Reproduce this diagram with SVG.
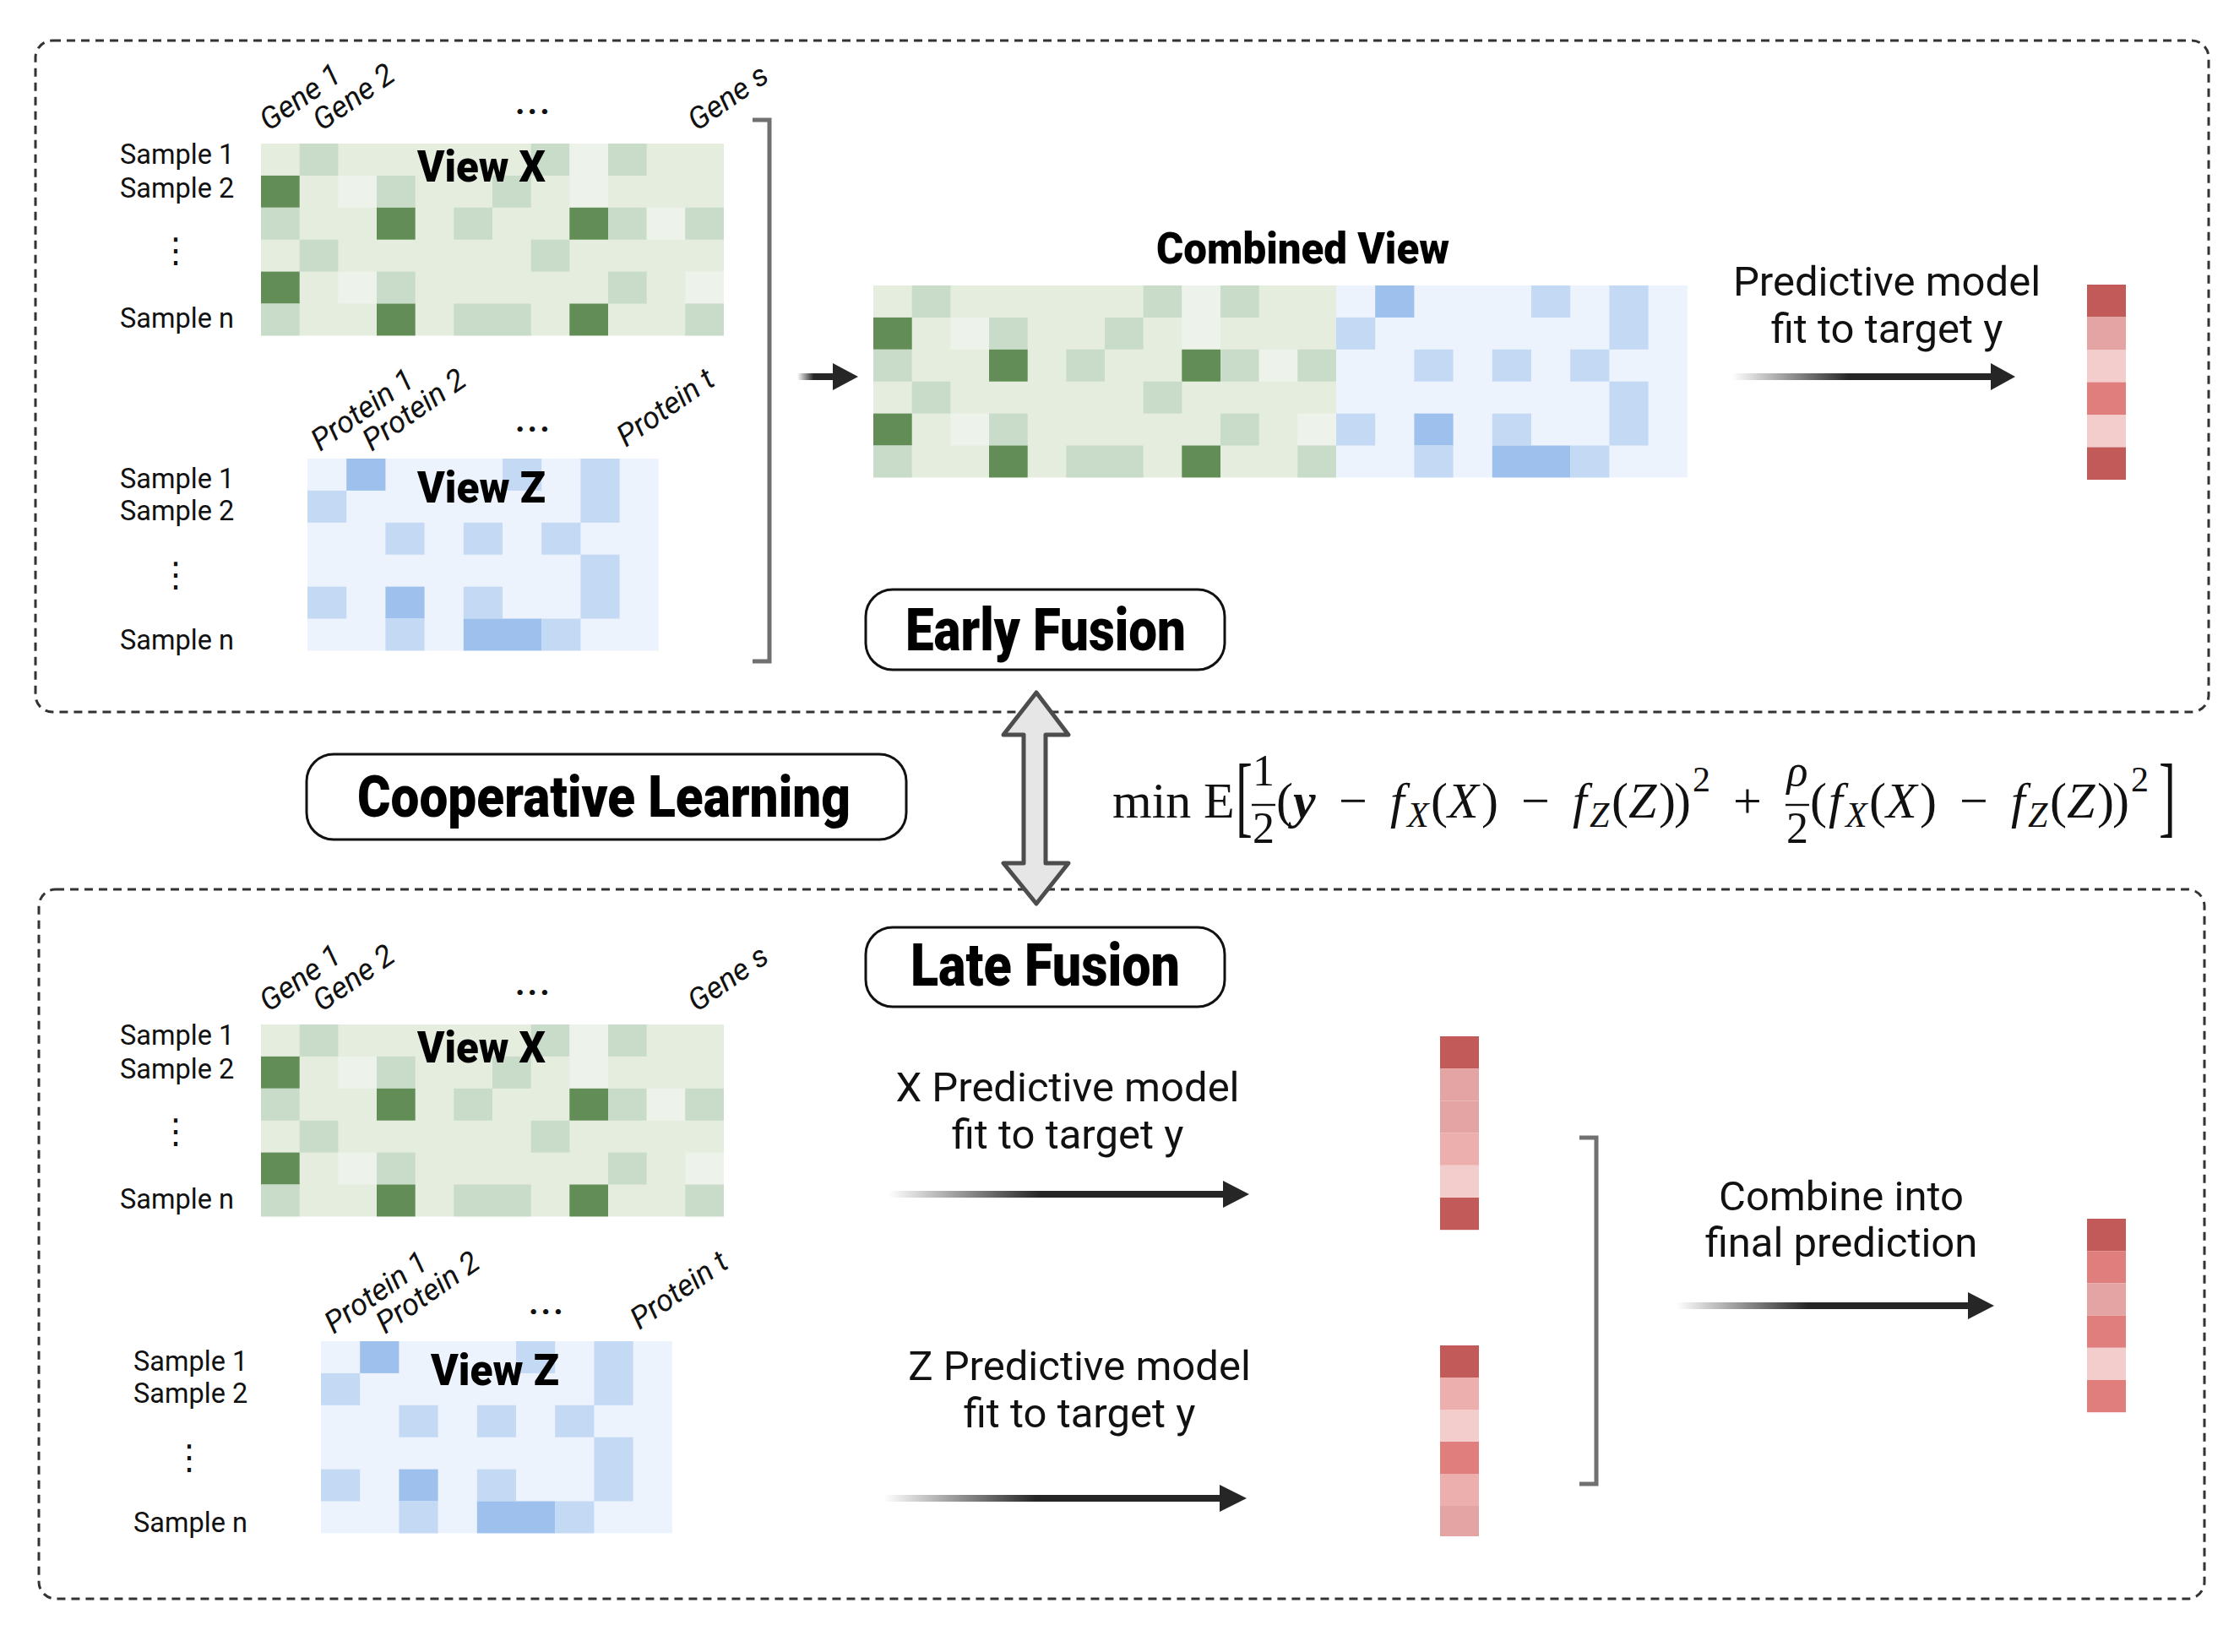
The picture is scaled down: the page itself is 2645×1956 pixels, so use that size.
<svg xmlns="http://www.w3.org/2000/svg" xmlns:xlink="http://www.w3.org/1999/xlink" width="2645" height="1956" viewBox="0 0 2645 1956">
<defs>
<style>
.dash{fill:none;stroke:#333;stroke-width:3;stroke-dasharray:10 7}
.lbl{font-family:Roboto,"Liberation Sans",sans-serif;font-size:32.5px;fill:#111}
.col{font-family:Roboto,"Liberation Sans",sans-serif;font-style:italic;font-size:36px;fill:#111}
.dots{font-family:Roboto,"Liberation Sans",sans-serif;font-size:40px;font-weight:700;letter-spacing:3px;fill:#111}
.vdots{font-family:"DejaVu Sans",sans-serif;font-size:40px;fill:#111;text-anchor:middle}
.ttl{font-family:Roboto,"Liberation Sans",sans-serif;font-weight:900;fill:#000}
.txt{font-family:Roboto,"Liberation Sans",sans-serif;font-size:49px;fill:#111;text-anchor:middle}
.m{font-family:"Liberation Serif","Times New Roman",serif;font-size:60px;fill:#111}
.mi{font-style:italic}
.s{font-size:42px}
.fr{font-size:52px;text-anchor:middle}
.gL{fill:#e5eddf}.gM{fill:#c9dcc9}.gV{fill:#edf2ea}.gD{fill:#638d56}
.bL{fill:#ecf3fc}.bM{fill:#c3d9f4}.bD{fill:#9dc1ec}
.r1{fill:#c25a5a}.r2{fill:#e07e7e}.r3{fill:#e4a4a3}.r4{fill:#edaeae}.r5{fill:#f3cccc}
.brk{fill:none;stroke:#707070;stroke-width:5}
.pill{fill:#fff;stroke:#111;stroke-width:3}
.head{fill:#262626}
.bar{stroke:#111;stroke-width:2.4}
</style>
<linearGradient id="fade" x1="0" y1="0" x2="1" y2="0">
<stop offset="0" stop-color="#ffffff"/>
<stop offset="0.45" stop-color="#262626"/>
<stop offset="1" stop-color="#262626"/>
</linearGradient>
<g id="gridX">
<rect class="gL" x="0" y="0" width="548" height="227.4"/>
<rect class="gM" x="45.7" y="0" width="45.7" height="37.9"/>
<rect class="gM" x="319.7" y="0" width="45.7" height="37.9"/>
<rect class="gV" x="365.3" y="0" width="45.7" height="37.9"/>
<rect class="gM" x="411" y="0" width="45.7" height="37.9"/>
<rect class="gD" x="0" y="37.9" width="45.7" height="37.9"/>
<rect class="gV" x="91.3" y="37.9" width="45.7" height="37.9"/>
<rect class="gM" x="137" y="37.9" width="45.7" height="37.9"/>
<rect class="gM" x="274" y="37.9" width="45.7" height="37.9"/>
<rect class="gV" x="365.3" y="37.9" width="45.7" height="37.9"/>
<rect class="gM" x="0" y="75.8" width="45.7" height="37.9"/>
<rect class="gD" x="137" y="75.8" width="45.7" height="37.9"/>
<rect class="gM" x="228.3" y="75.8" width="45.7" height="37.9"/>
<rect class="gD" x="365.3" y="75.8" width="45.7" height="37.9"/>
<rect class="gM" x="411" y="75.8" width="45.7" height="37.9"/>
<rect class="gV" x="456.7" y="75.8" width="45.7" height="37.9"/>
<rect class="gM" x="502.3" y="75.8" width="45.7" height="37.9"/>
<rect class="gM" x="45.7" y="113.7" width="45.7" height="37.9"/>
<rect class="gM" x="319.7" y="113.7" width="45.7" height="37.9"/>
<rect class="gD" x="0" y="151.6" width="45.7" height="37.9"/>
<rect class="gV" x="91.3" y="151.6" width="45.7" height="37.9"/>
<rect class="gM" x="137" y="151.6" width="45.7" height="37.9"/>
<rect class="gM" x="411" y="151.6" width="45.7" height="37.9"/>
<rect class="gV" x="502.3" y="151.6" width="45.7" height="37.9"/>
<rect class="gM" x="0" y="189.5" width="45.7" height="37.9"/>
<rect class="gD" x="137" y="189.5" width="45.7" height="37.9"/>
<rect class="gM" x="228.3" y="189.5" width="91.4" height="37.9"/>
<rect class="gD" x="365.3" y="189.5" width="45.7" height="37.9"/>
<rect class="gM" x="502.3" y="189.5" width="45.7" height="37.9"/>
</g>
<g id="gridZ">
<rect class="bL" x="0" y="0" width="415.8" height="227.4"/>
<rect class="bD" x="46.2" y="0" width="46.2" height="37.9"/>
<rect class="bM" x="231" y="0" width="46.2" height="37.9"/>
<rect class="bM" x="323.4" y="0" width="46.2" height="75.8"/>
<rect class="bM" x="0" y="37.9" width="46.2" height="37.9"/>
<rect class="bM" x="92.4" y="75.8" width="46.2" height="37.9"/>
<rect class="bM" x="184.8" y="75.8" width="46.2" height="37.9"/>
<rect class="bM" x="277.2" y="75.8" width="46.2" height="37.9"/>
<rect class="bM" x="323.4" y="113.7" width="46.2" height="75.8"/>
<rect class="bM" x="0" y="151.6" width="46.2" height="37.9"/>
<rect class="bD" x="92.4" y="151.6" width="46.2" height="37.9"/>
<rect class="bM" x="184.8" y="151.6" width="46.2" height="37.9"/>
<rect class="bM" x="92.4" y="189.5" width="46.2" height="37.9"/>
<rect class="bD" x="184.8" y="189.5" width="92.4" height="37.9"/>
<rect class="bM" x="277.2" y="189.5" width="46.2" height="37.9"/>
</g>
</defs>
<rect x="0" y="0" width="2645" height="1956" fill="#fff"/>

<g id="panel-early"><rect class="dash" x="42" y="48" width="2573" height="795" rx="20"/></g>
<g id="panel-late"><rect class="dash" x="46" y="1053" width="2564" height="840" rx="20"/></g>

<g id="early-viewX">
<use xlink:href="#gridX" x="309" y="170"/>
<text class="ttl" x="494" y="215" font-size="52" textLength="152" lengthAdjust="spacingAndGlyphs">View X</text>
<text class="col" transform="translate(318,156) rotate(-35)">Gene 1</text>
<text class="col" transform="translate(381,156) rotate(-35)">Gene 2</text>
<text class="col" transform="translate(825,156) rotate(-35)">Gene s</text>
<text class="dots" x="610" y="135">...</text>
<text class="lbl" x="142" y="194">Sample 1</text>
<text class="lbl" x="142" y="234">Sample 2</text>
<text class="vdots" x="208" y="310">⋮</text>
<text class="lbl" x="142" y="388">Sample n</text>
</g>

<g id="early-viewZ">
<use xlink:href="#gridZ" x="364" y="543"/>
<text class="ttl" x="494" y="595" font-size="52" textLength="152" lengthAdjust="spacingAndGlyphs">View Z</text>
<text class="col" transform="translate(379,535) rotate(-35)">Protein 1</text>
<text class="col" transform="translate(440,535) rotate(-35)">Protein 2</text>
<text class="col" transform="translate(741,530) rotate(-35)">Protein t</text>
<text class="dots" x="610" y="511">...</text>
<text class="lbl" x="142" y="578">Sample 1</text>
<text class="lbl" x="142" y="616">Sample 2</text>
<text class="vdots" x="208" y="694">⋮</text>
<text class="lbl" x="142" y="769">Sample n</text>
</g>

<g id="combined-view">
<text class="ttl" x="1369" y="312" font-size="52" textLength="347" lengthAdjust="spacingAndGlyphs">Combined View</text>
<use xlink:href="#gridX" x="1034" y="338"/>
<use xlink:href="#gridZ" x="1582" y="338"/>
</g>

<g id="early-model">
<text class="txt" x="2234" y="350">Predictive model</text>
<text class="txt" x="2234" y="406">fit to target y</text>
</g>

<g id="early-prediction">
<rect class="r1" x="2471" y="337" width="46" height="38.5"/>
<rect class="r3" x="2471" y="375.5" width="46" height="38.5"/>
<rect class="r5" x="2471" y="414" width="46" height="38.5"/>
<rect class="r2" x="2471" y="452.5" width="46" height="38.5"/>
<rect class="r5" x="2471" y="491" width="46" height="38.5"/>
<rect class="r1" x="2471" y="529.5" width="46" height="38.5"/>
</g>

<g id="early-fusion">
<rect class="pill" x="1025" y="698" width="425" height="95" rx="32"/>
<text class="ttl" x="1072" y="770" font-size="70" textLength="332" lengthAdjust="spacingAndGlyphs">Early Fusion</text>
</g>

<g id="cooperative-learning">
<rect class="pill" x="363" y="893" width="710" height="101" rx="32"/>
<text class="ttl" x="423" y="967" font-size="68" textLength="584" lengthAdjust="spacingAndGlyphs">Cooperative Learning</text>
</g>

<g id="late-fusion">
<rect class="pill" x="1025" y="1098" width="425" height="94" rx="32"/>
<text class="ttl" x="1078" y="1167" font-size="70" textLength="319" lengthAdjust="spacingAndGlyphs">Late Fusion</text>
</g>

<g id="objective">
<text class="m" x="1317" y="968">min</text>
<text class="m" x="1425" y="968">E</text>
<text class="m" transform="translate(1463,978) scale(1,1.75)">[</text>
<text class="m fr" x="1496" y="930">1</text>
<line class="bar" x1="1482" y1="953" x2="1510" y2="953"/>
<text class="m fr" x="1496" y="998">2</text>
<text class="m" x="1511" y="968">(</text>
<text class="m mi" x="1531" y="968" font-weight="700">y</text>
<text class="m" x="1585" y="968">−</text>
<text class="m mi" x="1646" y="968">f</text>
<text class="m mi s" x="1666" y="979">X</text>
<text class="m" x="1694" y="968">(</text>
<text class="m mi" x="1714" y="968">X</text>
<text class="m" x="1754" y="968">)</text>
<text class="m" x="1801" y="968">−</text>
<text class="m mi" x="1862" y="968">f</text>
<text class="m mi s" x="1882" y="979">Z</text>
<text class="m" x="1908" y="968">(</text>
<text class="m mi" x="1928" y="968">Z</text>
<text class="m" x="1964" y="968">)</text>
<text class="m" x="1982" y="968">)</text>
<text class="m s" x="2004" y="937">2</text>
<text class="m" x="2052" y="968">+</text>
<text class="m fr mi" x="2128" y="930">ρ</text>
<line class="bar" x1="2114" y1="953" x2="2142" y2="953"/>
<text class="m fr" x="2128" y="998">2</text>
<text class="m" x="2143" y="968">(</text>
<text class="m mi" x="2165" y="968">f</text>
<text class="m mi s" x="2185" y="979">X</text>
<text class="m" x="2213" y="968">(</text>
<text class="m mi" x="2233" y="968">X</text>
<text class="m" x="2273" y="968">)</text>
<text class="m" x="2320" y="968">−</text>
<text class="m mi" x="2381" y="968">f</text>
<text class="m mi s" x="2401" y="979">Z</text>
<text class="m" x="2427" y="968">(</text>
<text class="m mi" x="2447" y="968">Z</text>
<text class="m" x="2483" y="968">)</text>
<text class="m" x="2501" y="968">)</text>
<text class="m s" x="2523" y="937">2</text>
<text class="m" transform="translate(2556,978) scale(1,1.75)">]</text>
</g>

<g id="late-viewX" transform="translate(0,1043)">
<use xlink:href="#gridX" x="309" y="170"/>
<text class="ttl" x="494" y="215" font-size="52" textLength="152" lengthAdjust="spacingAndGlyphs">View X</text>
<text class="col" transform="translate(318,156) rotate(-35)">Gene 1</text>
<text class="col" transform="translate(381,156) rotate(-35)">Gene 2</text>
<text class="col" transform="translate(825,156) rotate(-35)">Gene s</text>
<text class="dots" x="610" y="135">...</text>
<text class="lbl" x="142" y="194">Sample 1</text>
<text class="lbl" x="142" y="234">Sample 2</text>
<text class="vdots" x="208" y="310">⋮</text>
<text class="lbl" x="142" y="388">Sample n</text>
</g>

<g id="late-viewZ" transform="translate(16,1045)">
<use xlink:href="#gridZ" x="364" y="543"/>
<text class="ttl" x="494" y="595" font-size="52" textLength="152" lengthAdjust="spacingAndGlyphs">View Z</text>
<text class="col" transform="translate(379,535) rotate(-35)">Protein 1</text>
<text class="col" transform="translate(440,535) rotate(-35)">Protein 2</text>
<text class="col" transform="translate(741,530) rotate(-35)">Protein t</text>
<text class="dots" x="610" y="511">...</text>
<text class="lbl" x="142" y="578">Sample 1</text>
<text class="lbl" x="142" y="616">Sample 2</text>
<text class="vdots" x="208" y="694">⋮</text>
<text class="lbl" x="142" y="769">Sample n</text>
</g>

<g id="late-modelX">
<text class="txt" x="1264" y="1304">X Predictive model</text>
<text class="txt" x="1264" y="1360">fit to target y</text>
</g>
<g id="late-modelZ">
<text class="txt" x="1278" y="1634">Z Predictive model</text>
<text class="txt" x="1278" y="1690">fit to target y</text>
</g>

<g id="late-predX">
<rect class="r1" x="1705" y="1227" width="46" height="38.2"/>
<rect class="r3" x="1705" y="1265.2" width="46" height="38.2"/>
<rect class="r3" x="1705" y="1303.4" width="46" height="38.2"/>
<rect class="r4" x="1705" y="1341.6" width="46" height="38.2"/>
<rect class="r5" x="1705" y="1379.8" width="46" height="38.2"/>
<rect class="r1" x="1705" y="1418" width="46" height="38.2"/>
</g>
<g id="late-predZ">
<rect class="r1" x="1705" y="1593" width="46" height="38"/>
<rect class="r4" x="1705" y="1631" width="46" height="38"/>
<rect class="r5" x="1705" y="1669" width="46" height="38"/>
<rect class="r2" x="1705" y="1707" width="46" height="38"/>
<rect class="r4" x="1705" y="1745" width="46" height="38"/>
<rect class="r3" x="1705" y="1783" width="46" height="36"/>
</g>

<g id="late-combine">
<text class="txt" x="2180" y="1433">Combine into</text>
<text class="txt" x="2180" y="1488">final prediction</text>
</g>

<g id="final-prediction">
<rect class="r1" x="2471" y="1443" width="46" height="38.2"/>
<rect class="r2" x="2471" y="1481.2" width="46" height="38.2"/>
<rect class="r3" x="2471" y="1519.4" width="46" height="38.2"/>
<rect class="r2" x="2471" y="1557.6" width="46" height="38.2"/>
<rect class="r5" x="2471" y="1595.8" width="46" height="38.2"/>
<rect class="r2" x="2471" y="1634" width="46" height="38.2"/>
</g>

<g id="connectors">
<path class="brk" d="M891 142 H911 V783 H891"/>
<path class="brk" d="M1870 1347 H1890 V1757 H1870"/>
<rect x="944" y="442" width="43" height="8" fill="url(#fade)"/>
<polygon class="head" points="986,430 1016,446 986,462"/>
<rect x="2051" y="442" width="307" height="8" fill="url(#fade)"/>
<polygon class="head" points="2357,430 2386,446 2357,462"/>
<rect x="1052" y="1410" width="397" height="8" fill="url(#fade)"/>
<polygon class="head" points="1448,1398 1479,1414 1448,1430"/>
<rect x="1047" y="1770" width="398" height="8" fill="url(#fade)"/>
<polygon class="head" points="1444,1758 1476,1774 1444,1790"/>
<rect x="1985" y="1542" width="346" height="8" fill="url(#fade)"/>
<polygon class="head" points="2330,1530 2361,1546 2330,1562"/>
<polygon points="1227,820 1265,870 1238,870 1238,1022 1265,1022 1227,1070 1188,1022 1212,1022 1212,870 1188,870" fill="#e6e6e6" stroke="#4d4d4d" stroke-width="5" stroke-linejoin="round"/>
</g>
</svg>
